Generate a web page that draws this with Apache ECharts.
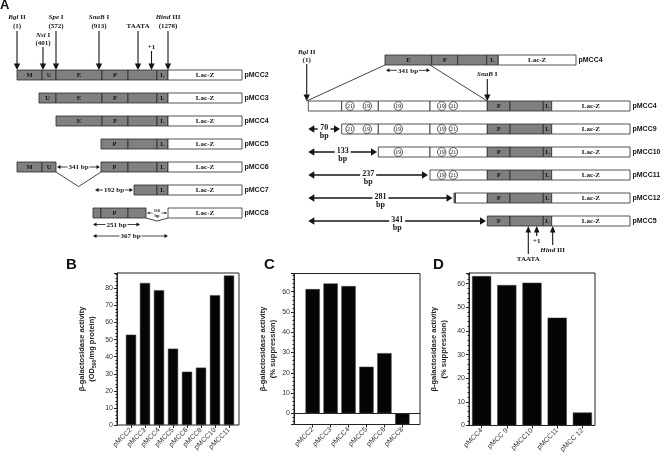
<!DOCTYPE html>
<html><head><meta charset="utf-8">
<script src="https://cdn.jsdelivr.net/npm/echarts@6/dist/echarts.min.js"></script>
<style>html,body{margin:0;padding:0;background:#fff}#c{width:664px;height:459px}</style>
</head><body><div id="c"></div>
<script>
// ================= DATA =================
// Panel B
const bCats = ['pMCC2','pMCC3','pMCC4','pMCC5','pMCC6','pMCC8','pMCC10','pMCC11'];
const bVals = [52.9, 83.2, 78.9, 44.7, 31.2, 33.6, 76.0, 87.5];
// Panel C
const cCats = ['pMCC2','pMCC3','pMCC4','pMCC5','pMCC6','pMCC8'];
const cVals = [61.3, 64.1, 62.8, 23.0, 29.7, -5.5];
// Panel D
const dCats = ['pMCC4','pMCC 9','pMCC10','pMCC11','pMCC 12'];
const dVals = [63.2, 59.4, 60.4, 45.6, 5.5];

// Panel A, left map (schematic units)
const leftRows = ['pMCC2','pMCC3','pMCC4','pMCC5','pMCC6','pMCC7','pMCC8'];
const leftSegments = [ // [row, start, end, label, fill g=gray w=white]
  [0,0,25,'M','g'],[0,25,39,'U','g'],[0,39,85,'E','g'],[0,85,111,'P','g'],[0,111,140,'','g'],[0,140,151,'L','g'],[0,151,225,'Lac-Z','w'],
  [1,22,39,'U','g'],[1,39,85,'E','g'],[1,85,111,'P','g'],[1,111,140,'','g'],[1,140,151,'L','g'],[1,151,225,'Lac-Z','w'],
  [2,39,85,'E','g'],[2,85,111,'P','g'],[2,111,140,'','g'],[2,140,151,'L','g'],[2,151,225,'Lac-Z','w'],
  [3,84,111,'P','g'],[3,111,140,'','g'],[3,140,151,'L','g'],[3,151,225,'Lac-Z','w'],
  [4,0,25,'M','g'],[4,25,39,'U','g'],[4,84,111,'P','g'],[4,111,140,'','g'],[4,140,151,'L','g'],[4,151,225,'Lac-Z','w'],
  [5,117,140,'','g'],[5,140,151,'L','g'],[5,151,225,'Lac-Z','w'],
  [6,76,84,'','g'],[6,84,111,'P','g'],[6,111,129,'','g'],[6,151,225,'Lac-Z','w']
];
const leftSites = [ // [italic part, roman part, position, x, level]
  ['Bgl',' II','(1)',0,0],['Nsi',' I','(401)',26,1],['Spe',' I','(572)',39,0],['SnaB',' I','(913)',82,0],
  ['','TAATA','',121,2],['','+1','',134.5,3],['Hind',' III','(1278)',151,0]
];
const leftSpans = [ // [row, from, to, text, rowOffset, size]
  [4,40,83,'341 bp',0,'m'],[5,78,116,'192 bp',0,'m'],[6,130,150,'116\nbp',0,'s'],
  [6,76,123,'251 bp',0.5,'m'],[6,76,151,'367 bp',1.0,'m']
];
const leftGaps = [[4,39,84,0.85],[6,129,151,0.35]]; // [row, from, to, depth]

// Panel A, right map
const rightRows = ['pMCC4','','pMCC4','pMCC9','pMCC10','pMCC11','pMCC12','pMCC5'];
const tail = r => [[r,181.3,204,'P','g'],[r,204,237.3,'','g'],[r,237.3,245.7,'L','g'],[r,245.7,324,'Lac-Z','w']];
const rightSegments = [
  [0,79,125.7,'E','g'],[0,125.7,151.7,'P','g'],[0,151.7,180.7,'','g'],[0,180.7,192.3,'L','g'],[0,192.3,270,'Lac-Z','w'],
  [2,2.3,35.7,'','w'],[2,35.7,72.3,'','w'],[2,72.3,124,'','w'],[2,124,181.3,'','w'],...tail(2),
  [3,35.7,72.3,'','w'],[3,72.3,124,'','w'],[3,124,181.3,'','w'],...tail(3),
  [4,72.3,124,'','w'],[4,124,181.3,'','w'],...tail(4),
  [5,124,181.3,'','w'],...tail(5),
  [6,148,149.5,'','g'],[6,149.5,181.3,'','w'],...tail(6),
  ...tail(7)
];
const rightMotifs = [
  [2,44,'21'],[2,61.3,'19'],[2,92.3,'19'],[2,135.7,'19'],[2,147.3,'21'],
  [3,44,'21'],[3,61.3,'19'],[3,92.3,'19'],[3,135.7,'19'],[3,147.3,'21'],
  [4,92.3,'19'],[4,135.7,'19'],[4,147.3,'21'],
  [5,135.7,'19'],[5,147.3,'21']
];
const rightDeletions = [[3,2.3,34,'70'],[4,2.3,71,'133'],[5,2.3,122,'237'],[6,2.3,146.5,'281'],[7,2.3,180,'341']];
const rightSpans = [[0,80,124,'341 bp',0.45,'m']];
const rightLinks = [[79,0,0.7,2],[124,0,181.3,2]];
const rightDownSites = [['Bgl',' II','(1)',0.7,0],['SnaB',' I','',181.3,1]]; // point to row 2
const rightUpSites = [['','TAATA',222.3,2],['','+1',230.7,0],['Hind',' III',246.7,1]]; // from row 7

// ================= STYLE / RENDER =================
const SANS = '"Liberation Sans", Arial, Helvetica, sans-serif';
const SERIF = '"Liberation Serif", "Times New Roman", serif';
const INK = '#151515', GRAY = '#808080', BAR_H = 10;
const RICH = {
  i:{fontStyle:'italic', fontWeight:'bold', fontFamily:SERIF, fontSize:7, fill:INK},
  r:{fontWeight:'bold', fontFamily:SERIF, fontSize:7, fill:INK}
};
const richName = (it, ro) => (it ? '{i|' + it + '}' : '') + '{r|' + ro + '}';
const T = (text, x, y, o) => ({type:'text', style:Object.assign({text, x, y, align:'center', verticalAlign:'middle',
  fontFamily:SERIF, fontWeight:'bold', fontSize:7, fill:INK}, o || {})});
const L = (x1,y1,x2,y2,w) => ({type:'line', shape:{x1,y1,x2,y2}, style:{stroke:INK, lineWidth:w||1}});
const P = pts => ({type:'polygon', shape:{points:pts}, style:{fill:INK}});
function hArrow(x0, x1, y, head, hh, lw){
  return [L(x0+head-1, y, x1-head+1, y, lw), P([[x0,y],[x0+head,y-hh],[x0+head,y+hh]]), P([[x1,y],[x1-head,y-hh],[x1-head,y+hh]])];
}
function custom(axis, list, toXY, render){
  return {type:'custom', xAxisIndex:axis, yAxisIndex:axis, clip:false, silent:true, animation:false,
    data:list.map(toXY), renderItem:(params, api) => ({type:'group', children:render(list[params.dataIndex], api)})};
}
const segR = (s, api) => {
  const a = api.coord([s[1], s[0]]), b = api.coord([s[2], s[0]]);
  const k = [{type:'rect', shape:{x:a[0], y:a[1]-BAR_H/2, width:b[0]-a[0], height:BAR_H},
    style:{fill:s[4]==='g'?GRAY:'#fff', stroke:'#2a2a2a', lineWidth:0.8}}];
  if (s[3]) k.push(T(s[3], (a[0]+b[0])/2, a[1]+0.5, {fontSize:s[3]==='Lac-Z'?7:6.5}));
  return k;
};
function rowLabels(rows, segs){
  return rows.map((name, i) => ({name, i, end: Math.max(...segs.filter(s => s[0]===i).map(s => s[2]))})).filter(r => r.name);
}
const rowLabR = (r, api) => {
  const p = api.coord([r.end, r.i]);
  return [T(r.name, p[0]+2.5, p[1]+0.5, {align:'left', fontFamily:SANS, fontSize:7})];
};
const spanR = (s, api) => {
  const a = api.coord([s[1], s[0]+s[4]]), b = api.coord([s[2], s[0]+s[4]]);
  const small = s[5]==='s';
  return [...hArrow(a[0], b[0], a[1], small?2.5:3.5, small?1.3:2, small?0.6:0.8),
    T(s[3], (a[0]+b[0])/2, a[1]+0.5, {fontSize:small?4.5:7, lineHeight:small?4.5:7, backgroundColor:'#fff', padding:[0,1]})];
};
const gapR = (g, api) => {
  const a = api.coord([g[1], g[0]]), m = api.coord([(g[1]+g[2])/2, g[0]+g[3]]), b = api.coord([g[2], g[0]]);
  return [{type:'polyline', shape:{points:[[a[0],a[1]+BAR_H/2],[m[0],m[1]],[b[0],b[1]+BAR_H/2]]}, style:{stroke:INK, lineWidth:0.8, fill:null}}];
};
const LEFT_LV = [{t1:-53,t2:-44,a:-39},{t1:-35,t2:-27,a:-23},{t1:-44,a:-39},{t1:-23,a:-19}];
const RIGHT_LV = [{t1:-49,t2:-41,a:-37},{t1:-27,a:-22}];
function downSiteR(row, levels){
  return (s, api) => {
    const p = api.coord([s[3], row]); const tip = p[1]-BAR_H/2, lv = levels[s[4]];
    const k = [L(p[0], tip+lv.a, p[0], tip-5, 1.1), P([[p[0]-3.2,tip-6.5],[p[0]+3.2,tip-6.5],[p[0],tip]]),
      T(richName(s[0], s[1]), p[0], tip+lv.t1, {rich:RICH})];
    if (s[2]) k.push(T(s[2], p[0], tip+lv.t2));
    return k;
  };
}
const UP_LV = [{t:15},{t:24},{t:33}];
const upSiteR = (s, api) => {
  const p = api.coord([s[2], 7]); const tip = p[1]+BAR_H/2, lv = UP_LV[s[3]];
  return [L(p[0], tip+5, p[0], tip+lv.t-5, 1.1), P([[p[0]-2.8,tip+6.5],[p[0]+2.8,tip+6.5],[p[0],tip]]),
    T(richName(s[0], s[1]), p[0], tip+lv.t, {rich:RICH})];
};
const motifR = (m, api) => {
  const p = api.coord([m[1], m[0]]);
  return [{type:'ellipse', shape:{cx:p[0], cy:p[1], rx:4.2, ry:4.4}, style:{fill:'#fff', stroke:INK, lineWidth:0.7}},
    T(m[2], p[0], p[1]+0.5, {fontSize:6, fontWeight:'normal'})];
};
const delR = (d, api) => {
  const a = api.coord([d[1], d[0]]), b = api.coord([d[2], d[0]]);
  return [...hArrow(a[0], b[0], a[1], 6, 3.8, 1.4),
    T(d[3] + '\n' + 'bp', (a[0]+b[0])/2, a[1]+3, {fontSize:8, lineHeight:8, backgroundColor:'#fff', padding:[0,2]})];
};
const linkR = (k, api) => {
  const a = api.coord([k[0], k[1]]), b = api.coord([k[2], k[3]]);
  return [L(a[0], a[1]+BAR_H/2, b[0], b[1]-BAR_H/2, 0.8)];
};

// ================= CHART =================
const axisCol = '#222';
const tickLbl = {fontSize:7, color:'#333', fontFamily:SANS};
const yName = () => ({
  nameLocation:'middle', nameRotate:90,
  nameTextStyle:{fontFamily:SANS, fontWeight:'bold', fontSize:7.5, color:'#222', lineHeight:10,
    rich:{b:{fontFamily:SANS, fontWeight:'bold', fontSize:7.5, color:'#222', lineHeight:10},
          s:{fontFamily:SANS, fontWeight:'bold', fontSize:5, color:'#222', verticalAlign:'bottom', lineHeight:10}}}
});
const valueY = (idx, min, max, extra) => Object.assign({
  type:'value', gridIndex:idx, min, max, splitLine:{show:false},
  axisLine:{show:true, onZero:false, lineStyle:{color:axisCol, width:1}},
  axisTick:{show:true, length:3, lineStyle:{color:axisCol}},
  minorTick:{show:true, splitNumber:5, length:1.5, lineStyle:{color:axisCol}},
  axisLabel:Object.assign({margin:4, showMaxLabel:false}, tickLbl)
}, extra || {});
const hiddenY = (idx, min, max) => ({type:'value', gridIndex:idx, min, max, show:false});
const catX = (idx, cats) => ({type:'category', gridIndex:idx, data:cats, position:'bottom',
  axisLine:{show:false, onZero:false}, axisTick:{show:true, alignWithLabel:true, length:3, lineStyle:{color:axisCol}},
  axisLabel:Object.assign({rotate:45, margin:4, interval:0}, tickLbl)});
const frame = {show:true, borderColor:'#222', borderWidth:1, backgroundColor:'transparent'};
const letter = (t, left, top, size) => ({text:t, left, top, padding:0,
  textStyle:{fontFamily:SANS, fontWeight:'bold', fontSize:size, color:'#111'}});

const option = {
  animation:false,
  backgroundColor:'#fff',
  title:[letter('A',0,-1,13), letter('B',66,257,15), letter('C',264,257,15), letter('D',433,257,15)],
  grid:[
    Object.assign({left:117, top:273, width:122, height:152}, frame),   // 0 B frame
    {left:124, top:273, width:112, height:152},                          // 1 B bars
    Object.assign({left:294, top:273.5, width:126, height:151}, frame), // 2 C frame
    {left:303.7, top:273.5, width:107.6, height:151},                    // 3 C bars
    Object.assign({left:469, top:273, width:126, height:152.5}, frame), // 4 D
    {left:17, top:63.5, width:225, height:161},                          // 5 left map
    {left:306, top:48.5, width:324, height:184}                          // 6 right map
  ],
  xAxis:[
    {type:'value', gridIndex:0, min:0, max:1, show:false},
    catX(1, bCats),
    {type:'value', gridIndex:2, min:0, max:1, splitLine:{show:false}, axisTick:{show:false}, axisLabel:{show:false},
      axisLine:{show:true, onZero:true, lineStyle:{color:axisCol, width:1}}},
    catX(3, cCats),
    catX(4, dCats),
    {type:'value', gridIndex:5, min:0, max:225, show:false},
    {type:'value', gridIndex:6, min:0, max:324, show:false}
  ],
  yAxis:[
    valueY(0, 0, 89, Object.assign({interval:10, name:'{b|β-galactosidase activity}\n{b|(OD}{s|590}{b|/mg protein)}', nameGap:20}, yName())),
    hiddenY(1, 0, 89),
    valueY(2, -5.5, 69, Object.assign({splitNumber:7, name:'{b|β-galactosidase activity}\n{b|(% suppression)}', nameGap:15,
      axisLabel:Object.assign({margin:4, showMaxLabel:false, showMinLabel:false}, tickLbl)}, yName())),
    hiddenY(3, -5.5, 69),
    valueY(4, 0, 64.5, Object.assign({interval:10, name:'{b|β-galactosidase activity}\n{b|(% suppression)}', nameGap:20}, yName())),
    {type:'value', gridIndex:5, min:-0.5, max:6.5, inverse:true, show:false},
    {type:'value', gridIndex:6, min:-0.5, max:7.5, inverse:true, show:false}
  ],
  series:[
    {type:'bar', xAxisIndex:1, yAxisIndex:1, data:bVals, barCategoryGap:'27%', itemStyle:{color:'#050505', borderColor:'#444', borderWidth:0.5}},
    {type:'bar', xAxisIndex:3, yAxisIndex:3, data:cVals, barCategoryGap:'20%', itemStyle:{color:'#050505', borderColor:'#444', borderWidth:0.5}},
    {type:'bar', xAxisIndex:4, yAxisIndex:4, data:dVals, barCategoryGap:'24%', itemStyle:{color:'#050505', borderColor:'#444', borderWidth:0.5}},
    // left map
    custom(5, leftGaps, g => [g[1], g[0]], gapR),
    custom(5, leftSegments, s => [s[1], s[0]], segR),
    custom(5, rowLabels(leftRows, leftSegments), r => [r.end, r.i], rowLabR),
    custom(5, leftSites, s => [s[3], 0], downSiteR(0, LEFT_LV)),
    custom(5, leftSpans, s => [s[1], s[0]], spanR),
    // right map
    custom(6, rightLinks, k => [k[0], k[1]], linkR),
    custom(6, rightSegments, s => [s[1], s[0]], segR),
    custom(6, rowLabels(rightRows, rightSegments), r => [r.end, r.i], rowLabR),
    custom(6, rightMotifs, m => [m[1], m[0]], motifR),
    custom(6, rightDeletions, d => [d[1], d[0]], delR),
    custom(6, rightSpans, s => [s[1], s[0]], spanR),
    custom(6, rightDownSites, s => [s[3], 2], downSiteR(2, RIGHT_LV)),
    custom(6, rightUpSites, s => [s[2], 7], upSiteR)
  ]
};
const chart = echarts.init(document.getElementById('c'));
chart.setOption(option);
</script></body></html>
